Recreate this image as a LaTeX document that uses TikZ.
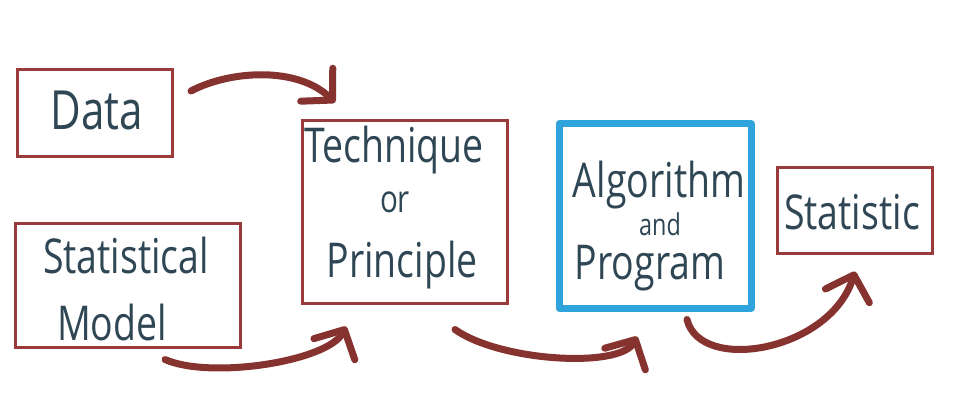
\documentclass[tikz,border=0pt]{standalone}
\usepackage{fontspec}
\setmainfont[FakeStretch=0.78]{Open Sans}
\usetikzlibrary{positioning,calc,arrows.meta}
\definecolor{boxred}{HTML}{9A3A3A}
\definecolor{arrowred}{HTML}{86332F}
\definecolor{penblue}{HTML}{2EA3DC}
\definecolor{ink}{HTML}{2F4654}
\begin{document}
\begin{tikzpicture}[x=1pt,y=-1pt]
    \tikzstyle{every node}=[inner sep=0,text=ink]
    \tikzstyle{box}=[draw=boxred,line width=3,rectangle]
    \tikzstyle{bluebox}=[draw=penblue,line width=7,rectangle,line join=round]
    \tikzstyle{word}=[font=\fontsize{48}{52}\selectfont]
    \tikzstyle{small}=[font=\fontsize{38}{42}\selectfont]
    \tikzstyle{tiny}=[font=\fontsize{30}{34}\selectfont]
    \tikzstyle{flow}=[draw=arrowred,line width=7,line cap=round,
        -{Straight Barb[length=22pt,width=46pt,round]}]
    {
        \useasboundingbox (0,0) rectangle (955,417);

        % boxes
        \node[box,minimum width=155,minimum height=87] (data) at (95,113) {};
        \node[box,minimum width=225,minimum height=124] (model) at (128,285) {};
        \node[box,minimum width=205,minimum height=182] (tech) at (405,212) {};
        \node[bluebox,minimum width=192,minimum height=184] (algo) at (655,216) {};
        \node[box,minimum width=155,minimum height=86] (stat) at (855,210) {};

        % texts
        \node[word,font=\fontsize{54}{58}\selectfont] (datatxt) at (97,110) {Data};
        \node[word] (modeltxt1) at (126,255) {Statistical};
        \node[word] (modeltxt2) at (112,322) {Model};
        \node[word] (techtxt1) at (394,150) {Technique};
        \node[small] (techtxt2) at (395,202) {or};
        \node[word] (techtxt3) at (402,265) {Principle};
        \node[word] (algotxt1) at (659,185) {Algorithm};
        \node[tiny] (algotxt2) at (660,224) {and};
        \node[word] (algotxt3) at (650,268) {Program};
        \node[word] (stattxt) at (852,212) {Statistic};

        % arrows
        \coordinate (a1) at ($(data.east)+(17,-22)$);
        \coordinate (b1) at ($(tech.north west)+(34,-17)$);
        \coordinate (a2) at ($(model.south)+(37,11)$);
        \coordinate (b2) at ($(tech.south west)+(45,22)$);
        \coordinate (a3) at ($(tech.south)+(50,25)$);
        \coordinate (b3) at ($(algo.south)+(-18,25)$);
        \coordinate (a4) at ($(algo.south)+(32,8)$);
        \coordinate (b4) at ($(stat.south)+(0,17)$);

        \path[flow] (a1) .. controls +(40,-21) and +(-37,-36) .. (b1);
        \path[flow] (a2) .. controls +(45,20) and +(-18,35) .. (b2);
        \path[flow] (a3) .. controls +(45,32) and +(-17,32) .. (b3);
        \path[flow] (a4) .. controls +(13,54) and +(-25,80) .. (b4);
    }
\end{tikzpicture}
\end{document}
